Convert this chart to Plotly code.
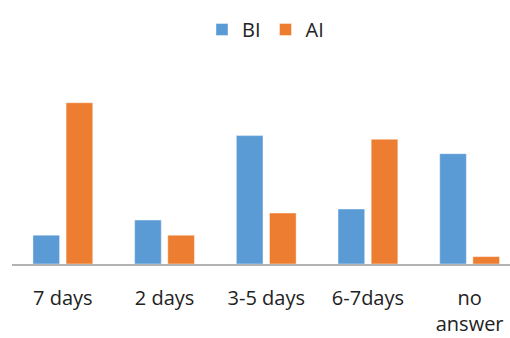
import plotly.graph_objects as go

categories = ["7 days", "2 days", "3-5 days", "6-7days", "no<br>answer"]
bi_values = [7.8, 11.9, 34.8, 14.9, 29.9]
ai_values = [43.7, 7.8, 13.8, 33.8, 2.0]

BLUE = "#5B9BD5"
ORANGE = "#ED7D31"
FONT = "Open Sans, Noto Sans, sans-serif"

fig = go.Figure()
fig.add_trace(go.Bar(
    name="BI", x=categories, y=bi_values,
    marker=dict(color=BLUE, line=dict(color="rgba(255,255,255,0.5)", width=0.8)),
    width=0.262, offset=-0.294,
))
fig.add_trace(go.Bar(
    name="AI", x=categories, y=ai_values,
    marker=dict(color=ORANGE, line=dict(color="rgba(255,255,255,0.5)", width=0.8)),
    width=0.262, offset=0.032,
))

fig.update_layout(
    width=510, height=338,
    margin=dict(l=12, r=0, t=80, b=74),
    paper_bgcolor="white", plot_bgcolor="white",
    barmode="overlay",
    font=dict(family=FONT, size=20, color="#222222"),
    showlegend=True,
    legend=dict(
        orientation="h", x=0.509, xanchor="center", y=0.9127, yanchor="middle",
        yref="container", itemwidth=30, itemclick=False,
        font=dict(family=FONT, size=20, color="#222222"),
        traceorder="normal",
    ),
    xaxis=dict(
        type="category", range=[-0.5, 4.397],
        showgrid=False, zeroline=False,
        showline=True, linecolor="#b3b3b3", linewidth=1.5,
        ticks="", ticklabelstandoff=15,
        tickfont=dict(family=FONT, size=20, color="#222222"),
    ),
    yaxis=dict(
        range=[0, 49.86], visible=False, showgrid=False, zeroline=False,
    ),
)

fig.write_html("out.html")
